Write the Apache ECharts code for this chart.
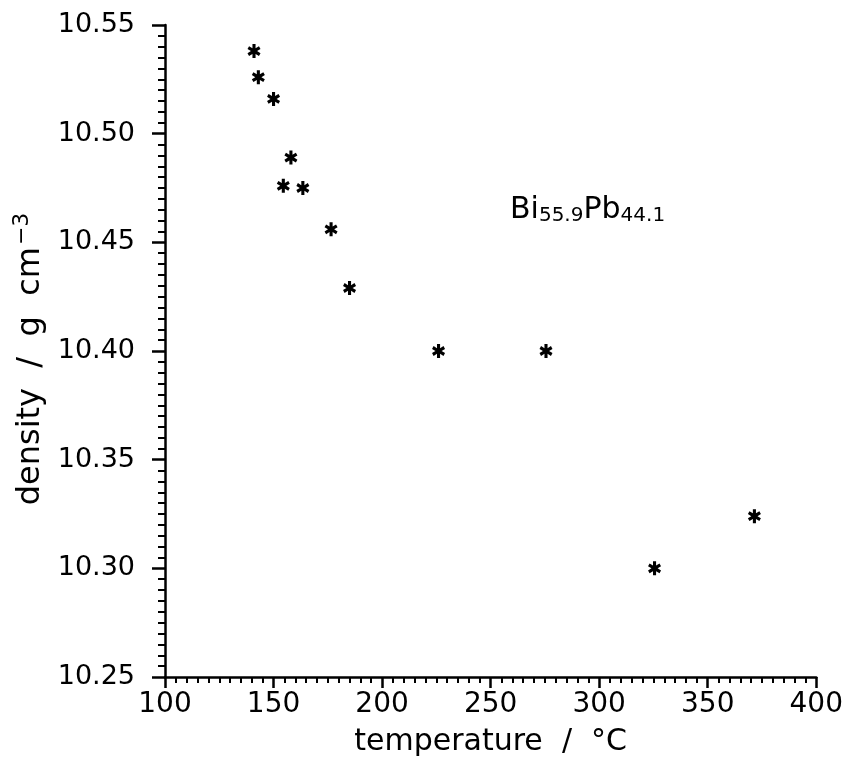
<!DOCTYPE html>
<html>
<head>
<meta charset="utf-8">
<script src="https://cdn.jsdelivr.net/npm/echarts@6/dist/echarts.min.js"></script>
<style>
  html, body { margin: 0; padding: 0; background: #fff; }
  #main { width: 846px; height: 765px; }
</style>
</head>
<body>
<div id="main"></div>
<script>
// temperature (°C) and density (g cm^-3)
const temperature = [141, 143, 150, 158, 154.5, 163.5, 176.5, 185, 226, 275.5, 325.5, 371.5];
const density = [10.538, 10.526, 10.516, 10.489, 10.476, 10.475, 10.456, 10.429, 10.400, 10.400, 10.300, 10.324];

const points = temperature.map((t, i) => [t, density[i]]);

// six-armed asterisk outline (one polygon, arms at 30,90,...,330 deg)
function asteriskPath(len, w) {
  const pts = [];
  for (let k = 0; k < 6; k++) {
    const a = (30 + 60 * k) * Math.PI / 180;
    const ca = Math.cos(a), sa = Math.sin(a);
    // arm tip corners
    pts.push([len * ca + w * sa, len * sa - w * ca]);
    pts.push([len * ca - w * sa, len * sa + w * ca]);
    // inner corner between this arm and next
    const b = a + Math.PI / 6;
    pts.push([2 * w * Math.cos(b), 2 * w * Math.sin(b)]);
  }
  return "path://" + pts.map((p, i) => (i ? "L" : "M") +
    (p[0] + len).toFixed(3) + "," + (p[1] + len).toFixed(3)).join("") + "Z";
}
const asterisk = asteriskPath(6, 1.4);

const font = "DejaVu Sans";
const chart = echarts.init(document.getElementById("main"));

const option = {
  animation: false,
  backgroundColor: "#fff",
  grid: { left: 165, right: 26, top: 25, bottom: 88 },
  xAxis: {
    type: "value",
    min: 100,
    max: 400,
    interval: 50,
    name: "temperature  /  °C",
    nameLocation: "middle",
    nameGap: 50,
    nameTextStyle: { fontFamily: font, fontSize: 30, color: "#000" },
    axisLine: { show: true, lineStyle: { color: "#000", width: 2.5 } },
    axisTick: { show: true, length: 11, lineStyle: { color: "#000", width: 2.5 } },
    minorTick: { show: true, splitNumber: 10, length: 6, lineStyle: { color: "#000", width: 2 } },
    axisLabel: { fontFamily: font, fontSize: 28, color: "#000", margin: 14 },
    splitLine: { show: false }
  },
  yAxis: {
    type: "value",
    min: 10.25,
    max: 10.55,
    interval: 0.05,
    name: "{a|density  /  g  cm}{s|−3}",
    nameLocation: "middle",
    nameRotate: 90,
    nameGap: 100,
    nameTextStyle: {
      rich: {
        a: { fontFamily: font, fontSize: 32, color: "#000" },
        s: { fontFamily: font, fontSize: 22, color: "#000", verticalAlign: "bottom", padding: [0, 16, 17, 2] }
      }
    },
    axisLine: { show: true, lineStyle: { color: "#000", width: 2.5 } },
    axisTick: { show: true, length: 13, lineStyle: { color: "#000", width: 2.5 } },
    minorTick: { show: true, splitNumber: 10, length: 7, lineStyle: { color: "#000", width: 2 } },
    axisLabel: {
      fontFamily: font, fontSize: 27, color: "#000", margin: 30,
      formatter: v => v.toFixed(2)
    },
    splitLine: { show: false }
  },
  graphic: [{
    type: "text",
    left: 510,
    top: 195,
    style: {
      text: "{m|Bi}{b|55.9}{m|Pb}{b|44.1}",
      rich: {
        m: { fontFamily: font, fontSize: 30, fill: "#000" },
        b: { fontFamily: font, fontSize: 20, fill: "#000", padding: [12, 0, 0, 0] }
      }
    }
  }],
  series: [{
    type: "scatter",
    data: points,
    symbol: asterisk,
    symbolSize: [13, 14],
    itemStyle: { color: "#000", opacity: 1 }
  }]
};

chart.setOption(option);
</script>
</body>
</html>
